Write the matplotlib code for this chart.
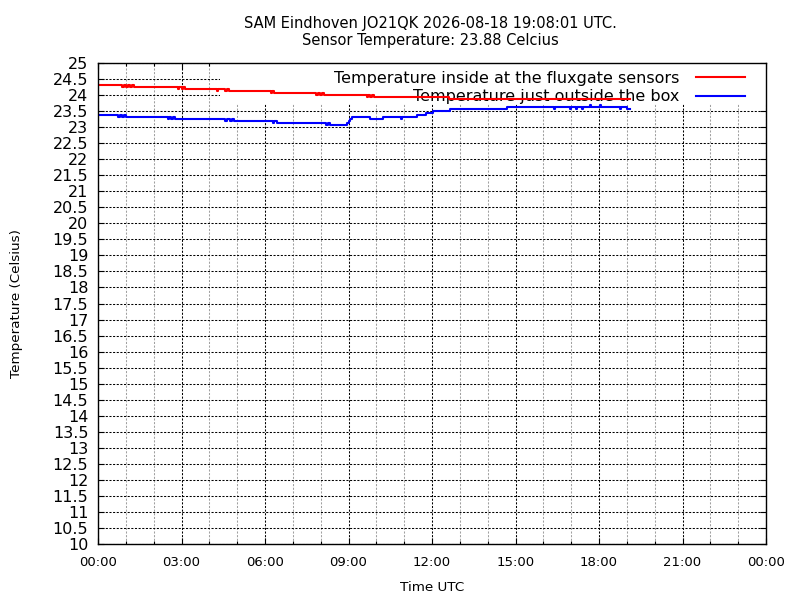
import matplotlib
matplotlib.use('Agg')
import matplotlib.pyplot as plt
from matplotlib.ticker import MultipleLocator, FuncFormatter
from matplotlib.patches import Rectangle

title_text = "SAM Eindhoven JO21QK 2026-08-18 19:08:01 UTC.\nSensor Temperature: 23.88 Celcius"
label_inside = "Temperature inside at the fluxgate sensors"
label_outside = "Temperature just outside the box"

# hours since 00:00 UTC, temperature in Celsius (0.0625 sensor steps)
inside_t = [0.00, 0.88, 0.93, 1.00, 1.08, 1.15, 1.22, 1.30, 2.86, 2.92, 3.00, 3.06, 3.12,
            4.27, 4.31, 4.55, 4.62, 4.70, 6.20, 6.26, 6.33, 7.85, 7.90, 7.98, 8.05, 8.12,
            9.65, 9.70, 9.78, 9.86, 9.92, 12.60, 19.13]
inside_v = [24.3125, 24.25, 24.3125, 24.25, 24.3125, 24.25, 24.3125, 24.25, 24.1875, 24.25, 24.1875, 24.25, 24.1875,
            24.125, 24.1875, 24.125, 24.1875, 24.125, 24.0625, 24.125, 24.0625, 24.0, 24.0625, 24.0, 24.0625, 24.0,
            23.9375, 24.0, 23.9375, 24.0, 23.9375, 23.875, 23.875]

outside_t = [0.00, 0.72, 0.78, 0.86, 0.92, 1.00, 2.50, 2.56, 2.62, 2.70, 2.76,
             4.56, 4.62, 4.75, 4.80, 4.88, 6.28, 6.34, 6.42, 8.20, 8.26, 8.33,
             8.95, 9.00, 9.06, 9.12, 9.77, 10.25, 10.90, 10.94, 11.45, 11.80, 12.05, 12.65,
             14.70, 16.38, 16.42, 16.95, 16.99, 17.18, 17.22, 17.40, 17.44, 17.66, 17.70,
             18.04, 18.08, 18.74, 18.78, 19.02, 19.13]
outside_v = [23.375, 23.3125, 23.375, 23.3125, 23.375, 23.3125, 23.25, 23.3125, 23.25, 23.3125, 23.25,
             23.1875, 23.25, 23.1875, 23.25, 23.1875, 23.125, 23.1875, 23.125, 23.0625, 23.125, 23.0625,
             23.125, 23.1875, 23.25, 23.3125, 23.25, 23.3125, 23.25, 23.3125, 23.375, 23.4375, 23.5, 23.5625,
             23.625, 23.5625, 23.625, 23.5625, 23.625, 23.5625, 23.625, 23.5625, 23.625, 23.6875, 23.625,
             23.6875, 23.625, 23.5625, 23.625, 23.5625, 23.5625]

fig = plt.figure(figsize=(8, 6), dpi=100)
ax = fig.add_axes([98/800, 1-544/600, 668/800, 481/600])

ax.plot(inside_t, inside_v, color='#ff0000', lw=1.5, drawstyle='steps-post', label=label_inside, zorder=3)
ax.plot(outside_t, outside_v, color='#0000ff', lw=1.5, drawstyle='steps-post', label=label_outside, zorder=3)

ax.set_xlim(0, 24)
ax.set_ylim(10, 25)
ax.xaxis.set_major_locator(MultipleLocator(3))
ax.xaxis.set_minor_locator(MultipleLocator(1))
ax.yaxis.set_major_locator(MultipleLocator(0.5))
ax.xaxis.set_major_formatter(FuncFormatter(lambda x, p: "%02d:00" % (int(round(x)) % 24)))
ax.yaxis.set_major_formatter(FuncFormatter(lambda y, p: "%g" % y))

ax.tick_params(which='both', direction='in', top=True, right=True, color='black')
ax.tick_params(which='major', length=4, width=0.8)
ax.tick_params(which='minor', length=2, width=0.8)
ax.tick_params(axis='y', labelsize=11.5, pad=7)
ax.tick_params(axis='x', labelsize=9.5, pad=9)

ax.set_axisbelow(True)
ax.grid(which='major', color='black', lw=0.75, dashes=(2, 1.5))
ax.grid(which='minor', axis='x', color='#a0a0a0', lw=0.75, dashes=(2, 1.5))

# white key box hiding the grid behind the legend
ax.add_patch(Rectangle((220/800, 1-104/600), (766-220)/800, (104-63)/600, transform=fig.transFigure,
                       facecolor='white', edgecolor='none', zorder=1.5))

leg = ax.legend(loc='upper right', bbox_to_anchor=(745/800, 1-71/600), bbox_transform=fig.transFigure,
                markerfirst=False, frameon=False, fontsize=11.5, handlelength=3.05, handletextpad=1.05,
                labelspacing=0.2, borderaxespad=0, borderpad=0)
leg.set_zorder(2)

for s in ax.spines.values():
    s.set_linewidth(1.0)
    s.set_zorder(4)

ax.set_xlabel("Time UTC", fontsize=9.7)
ax.set_ylabel("Temperature (Celsius)", fontsize=9.7)
ax.xaxis.set_label_coords(0.5, -0.077)
ax.yaxis.set_label_coords(-0.113, 0.5)

fig.text(430/800, 1-16/600, title_text, ha='center', va='top', fontsize=10.5, linespacing=1.15)

plt.savefig('out.png', dpi=100)
